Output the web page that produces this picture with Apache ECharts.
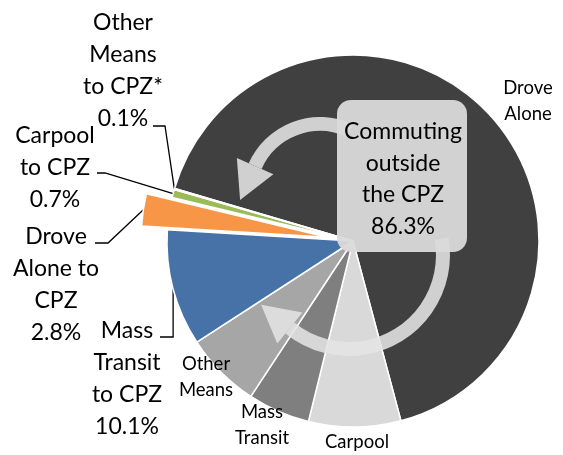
<!DOCTYPE html>
<html>
<head>
<meta charset="UTF-8">
<script src="https://cdn.jsdelivr.net/npm/echarts@6/dist/echarts.min.js"></script>
<style>
  html, body { margin: 0; padding: 0; width: 100%; height: 100%; background: #fff; }
  #main { width: 563px; height: 455px; }
</style>
</head>
<body>
<div id="main"></div>
<script>
// commuting shares, % of all commuters
const categories = ['Drove Alone', 'Carpool', 'Mass Transit', 'Other Means',
  'Mass Transit to CPZ', 'Drove Alone to CPZ', 'Carpool to CPZ', 'Other Means to CPZ*'];
const labelText = ['Drove\nAlone', 'Carpool', 'Mass\nTransit', 'Other\nMeans',
  'Mass\nTransit\nto CPZ', 'Drove\nAlone to\nCPZ', 'Carpool\nto CPZ', 'Other\nMeans\nto CPZ*'];
const shares = [66.3, 8.0, 5.4, 6.6, 10.1, 2.8, 0.7, 0.1];
const showPct = [false, false, false, false, true, true, true, true];
const colors = ['#404040', '#d9d9d9', '#7f7f7f', '#a6a6a6', '#4672a8', '#f79646', '#9bbb59', '#8064a2'];
const outsideTotal = 86.3;
const explodedIndex = 5;   // "Drove Alone to CPZ" is pulled out

const FONT = 'Lato';
const center = [353, 241];
const radius = 186;
const explodeBy = 26;

// where each label sits (centre of text block), and the bend of its leader line
const labelPos = [[528, 101], [357, 442], [262, 425], [206, 377], [127, 379], [56, 285], [55, 168], [123, 71]];
const lineBend = {
  4: (a) => [[a[0], 337], [160, 337]],
  5: (a) => [[108, 243], [95, 243]],
  6: (a) => [[105, 173], [97, 173]],
  7: (a) => [[165, 126], [153, 126]]
};

const clear = 'rgba(0,0,0,0)';

function buildData(part) {
  // 'main' draws every slice but the exploded one and carries all labels,
  // 'pulled' draws only the exploded slice
  return shares.map((v, i) => {
    const own = part === 'pulled' ? i === explodedIndex : i !== explodedIndex;
    const cpz = i >= 4;
    return {
      name: categories[i],
      value: v,
      selected: part === 'pulled' && i === explodedIndex,
      itemStyle: own ? { color: colors[i], borderColor: '#fff', borderWidth: 1.5 }
                     : { color: clear, borderWidth: 0 },
      label: {
        show: part === 'main',
        formatter: showPct[i] ? labelText[i] + '\n' + v.toFixed(1) + '%' : labelText[i],
        fontSize: cpz ? 23 : 18.5,
        lineHeight: cpz ? 32 : 25.5
      },
      labelLine: { show: part === 'main' && cpz }
    };
  });
}

function layoutFn(params) {
  const i = params.dataIndex;
  const p = labelPos[i];
  const out = { x: p[0], y: p[1], align: 'center', verticalAlign: 'middle' };
  if (lineBend[i] && params.labelLinePoints) {
    let a = params.labelLinePoints[0].slice();
    if (i === explodedIndex) {
      const dx = a[0] - center[0], dy = a[1] - center[1];
      const d = Math.sqrt(dx * dx + dy * dy);
      a = [a[0] + dx / d * explodeBy, a[1] + dy / d * explodeBy];
    }
    out.labelLinePoints = [a].concat(lineBend[i](a));
  }
  return out;
}

function pieSeries(part) {
  return {
    type: 'pie',
    center: center,
    radius: radius,
    startAngle: 163.6,
    clockwise: true,
    selectedMode: part === 'pulled' ? 'multiple' : false,
    selectedOffset: explodeBy,
    avoidLabelOverlap: false,
    animation: false,
    emphasis: { disabled: true },
    label: { position: 'outside', color: '#000', fontFamily: FONT },
    labelLine: { lineStyle: { color: '#000', width: 1.3 }, smooth: false },
    labelLayout: layoutFn,
    data: buildData(part)
  };
}

// curved arrows drawn over the pie
function onCircle(c, r, deg) {
  const a = deg * Math.PI / 180;
  return [c[0] + r * Math.sin(a), c[1] - r * Math.cos(a)];
}
function arrowHead(c, r, deg, dir) {
  const a = deg * Math.PI / 180;
  const b = onCircle(c, r, deg);
  const t = [dir * Math.cos(a), dir * Math.sin(a)];
  const n = [Math.sin(a), -Math.cos(a)];
  return [[b[0] + n[0] * 20, b[1] + n[1] * 20], [b[0] + t[0] * 37, b[1] + t[1] * 37], [b[0] - n[0] * 20, b[1] - n[1] * 20]];
}
function arcEl(c, r, fromDeg, toDeg) {
  return {
    type: 'arc', z: 100,
    shape: { cx: c[0], cy: c[1], r: r, startAngle: (fromDeg - 90) * Math.PI / 180, endAngle: (toDeg - 90) * Math.PI / 180, clockwise: true },
    style: { stroke: arrowColor, lineWidth: 14, fill: null }
  };
}
const arrowColor = 'rgba(228,228,228,0.88)';
const topC = [320, 195], topR = 71;
const botC = [349, 255], botR = 94;

const chart = echarts.init(document.getElementById('main'));
chart.setOption({
  animation: false,
  series: [pieSeries('main'), pieSeries('pulled')],
  graphic: [
    arcEl(topC, topR, -66, 25),
    { type: 'polygon', z: 100, shape: { points: arrowHead(topC, topR, -66, -1) }, style: { fill: arrowColor } },
    arcEl(botC, botR, 80, 219),
    { type: 'polygon', z: 100, shape: { points: arrowHead(botC, botR, 219, 1) }, style: { fill: arrowColor } },
    {
      type: 'rect', z: 101,
      shape: { x: 337, y: 100, width: 130, height: 152, r: 14 },
      style: { fill: 'rgba(218,218,218,0.95)' }
    },
    {
      type: 'text', z: 102, x: 403, y: 179,
      style: {
        text: 'Commuting\noutside\nthe CPZ\n' + outsideTotal.toFixed(1) + '%',
        font: '23px ' + FONT, lineHeight: 31.5, fill: '#000', align: 'center', verticalAlign: 'middle'
      }
    }
  ]
});
</script>
</body>
</html>
